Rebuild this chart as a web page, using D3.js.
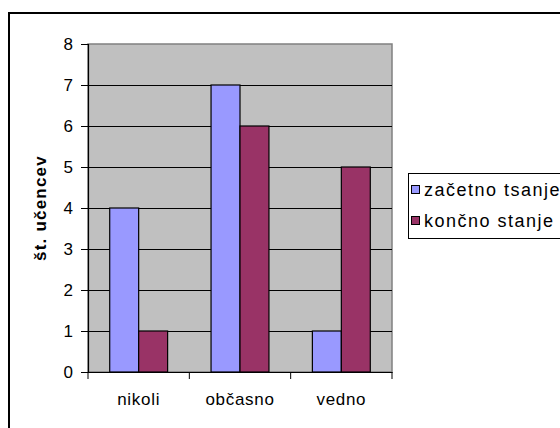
<!DOCTYPE html>
<html>
<head>
<meta charset="utf-8">
<script src="https://cdn.jsdelivr.net/npm/d3@7"></script>
<style>
  body { margin: 0; background: #fff; }
  text { font-family: "Liberation Sans", Arial, sans-serif; fill: #000; }
</style>
</head>
<body>
<div id="chart"></div>
<script>
// data
const categories = ["nikoli", "občasno", "vedno"];
const seriesNames = ["začetno tsanje", "končno stanje"];
const zacetno = [4, 7, 1];
const koncno = [1, 6, 5];
const yTicks = [0, 1, 2, 3, 4, 5, 6, 7, 8];
const colors = ["#9999ff", "#993366"];

const W = 560, H = 428;
const plot = { left: 88, top: 44, right: 392, bottom: 372 };

const svg = d3.select("#chart").append("svg")
    .attr("width", W)
    .attr("height", H);

// outer chart border
svg.append("rect")
    .attr("x", 9).attr("y", 13)
    .attr("width", 600).attr("height", 500)
    .attr("fill", "none")
    .attr("stroke", "#000")
    .attr("stroke-width", 2);

const x = d3.scaleBand()
    .domain(categories)
    .range([plot.left, plot.right]);

const x1 = d3.scaleBand()
    .domain(seriesNames)
    .range([0, x.bandwidth()])
    .paddingInner(0)
    .paddingOuter(0.75);

const y = d3.scaleLinear()
    .domain([0, 8])
    .range([plot.bottom, plot.top]);

// plot area
svg.append("rect")
    .attr("x", plot.left).attr("y", plot.top)
    .attr("width", plot.right - plot.left)
    .attr("height", plot.bottom - plot.top)
    .attr("fill", "#c0c0c0")
    .attr("stroke", "#808080")
    .attr("stroke-width", 1.5);

// gridlines
svg.append("g")
  .selectAll("line")
  .data(yTicks.filter(d => d > 0 && d < 8))
  .join("line")
    .attr("x1", plot.left).attr("x2", plot.right)
    .attr("y1", d => Math.round(y(d)) + 0.5)
    .attr("y2", d => Math.round(y(d)) + 0.5)
    .attr("stroke", "#000")
    .attr("stroke-width", 1);

// bars
const rows = categories.map((c, i) => ({ cat: c, vals: [zacetno[i], koncno[i]] }));
svg.append("g")
  .selectAll("g")
  .data(rows)
  .join("g")
    .attr("transform", d => `translate(${x(d.cat)},0)`)
  .selectAll("rect")
  .data(d => d.vals.map((v, j) => ({ name: seriesNames[j], v, j })))
  .join("rect")
    .attr("x", d => x1(d.name))
    .attr("y", d => y(d.v))
    .attr("width", x1.bandwidth())
    .attr("height", d => y(0) - y(d.v))
    .attr("fill", d => colors[d.j])
    .attr("stroke", "#000")
    .attr("stroke-width", 1.2);

// y axis
const yAxis = svg.append("g")
    .attr("transform", `translate(${plot.left},0)`)
    .call(d3.axisLeft(y).tickValues(yTicks).tickSize(7).tickPadding(8));
yAxis.selectAll("text")
    .style("font-size", "17px")
    .style("font-family", "'Liberation Sans', Arial, sans-serif");
yAxis.selectAll("line, path").attr("stroke", "#000");

// x axis
const xAxis = svg.append("g")
    .attr("transform", `translate(0,${plot.bottom})`)
    .call(d3.axisBottom(x).tickSize(0).tickPadding(21));
xAxis.selectAll("text")
    .style("font-size", "17px")
    .style("letter-spacing", "0.7px")
    .style("font-family", "'Liberation Sans', Arial, sans-serif");
xAxis.select(".domain").attr("stroke", "#000");
xAxis.selectAll(".tick line").remove();
svg.append("g")
  .selectAll("line")
  .data([...categories.map(c => x(c)), plot.right])
  .join("line")
    .attr("x1", d => d).attr("x2", d => d)
    .attr("y1", plot.bottom).attr("y2", plot.bottom + 7)
    .attr("stroke", "#000");

svg.selectAll(".domain").attr("stroke-width", 1.2);

// y axis title
svg.append("text")
    .attr("transform", `translate(46,${(plot.top + plot.bottom) / 2}) rotate(-90)`)
    .attr("text-anchor", "middle")
    .style("font-size", "17px")
    .style("letter-spacing", "1.2px")
    .style("font-weight", "bold")
    .text("št. učencev");

// legend
const legend = svg.append("g");
legend.append("rect")
    .attr("x", 408.5).attr("y", 173.5)
    .attr("width", 170).attr("height", 65)
    .attr("fill", "#fff")
    .attr("stroke", "#000");
const li = legend.selectAll("g")
  .data(seriesNames)
  .join("g")
    .attr("transform", (d, i) => `translate(411,${190 + i * 31})`);
li.append("rect")
    .attr("x", 0.5).attr("y", -4.5)
    .attr("width", 8).attr("height", 8)
    .attr("fill", (d, i) => colors[i])
    .attr("stroke", "#000");
li.append("text")
    .attr("x", 13)
    .attr("dy", "0.35em")
    .style("font-size", "18px")
    .style("letter-spacing", "1.5px")
    .text(d => d);
</script>
</body>
</html>
